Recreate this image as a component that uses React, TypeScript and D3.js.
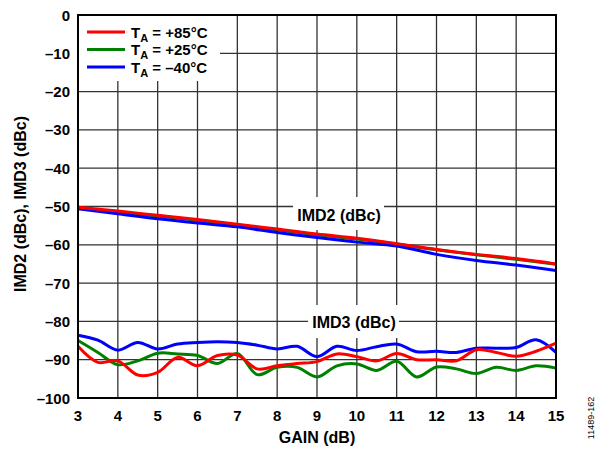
import React from "react";
import * as d3 from "d3";

const gainX = [3, 3.5, 4, 4.5, 5, 5.5, 6, 6.5, 7, 7.5, 8, 8.5, 9, 9.5, 10, 10.5, 11, 11.5, 12, 12.5, 13, 13.5, 14, 14.5, 15];
const imd2X = [3, 4, 5, 6, 7, 8, 9, 10, 11, 12, 13, 14, 15];

const imd2Red = [-50.2, -51.2, -52.3, -53.4, -54.6, -55.9, -57.2, -58.3, -59.7, -61.2, -62.5, -63.6, -65.0];
const imd2Green = [-50.4, -51.4, -52.5, -53.6, -54.8, -56.1, -57.4, -58.5, -59.8, -61.3, -62.6, -63.8, -65.1];
const imd2Blue = [-50.6, -51.9, -53.2, -54.3, -55.3, -56.8, -58.1, -59.3, -60.3, -62.5, -64.1, -65.3, -66.7];

const imd3Red = [-86.5, -90.7, -90.3, -94.0, -93.3, -89.4, -91.6, -88.9, -88.8, -92.4, -91.6, -91.0, -90.5, -88.5, -89.2, -90.3, -88.4, -90.0, -90.0, -90.3, -87.4, -88.1, -89.1, -87.8, -85.7];
const imd3Green = [-85.0, -88.1, -91.3, -90.3, -88.3, -88.5, -88.9, -91.0, -88.4, -93.9, -92.0, -92.0, -94.5, -91.6, -91.1, -92.8, -90.4, -94.5, -91.9, -92.4, -93.6, -92.0, -92.8, -91.6, -92.2];
const imd3Blue = [-83.6, -84.9, -87.5, -85.5, -87.2, -85.9, -85.5, -85.3, -85.5, -86.2, -87.2, -86.5, -89.2, -86.5, -87.6, -86.6, -85.9, -87.9, -87.8, -88.1, -87.0, -87.0, -86.8, -84.8, -88.1];

const xTicks = [3, 4, 5, 6, 7, 8, 9, 10, 11, 12, 13, 14, 15];
const yTicks = [0, -10, -20, -30, -40, -50, -60, -70, -80, -90, -100];

const legendItems = [
  { label: "+85°C", color: "#ff0000" },
  { label: "+25°C", color: "#008000" },
  { label: "–40°C", color: "#0000ff" },
];

const W = 603;
const H = 452;
const L = 78, R = 556, T = 15, B = 398;

export default function App() {
  const x = d3.scaleLinear().domain([3, 15]).range([L, R]);
  const y = d3.scaleLinear().domain([0, -100]).range([T, B]);
  const line = (xs: number[]) =>
    d3.line<number>().x((_, i) => x(xs[i])).y((d) => y(d)).curve(d3.curveCatmullRom.alpha(0.5));
  const l2 = line(imd2X);
  const l3 = line(gainX);
  const fontB = { fontFamily: "Arial, 'Liberation Sans', sans-serif", fontWeight: 700 } as const;
  const fmt = (v: number) => (v < 0 ? "–" + Math.abs(v) : String(v));

  return (
    <svg width={W} height={H} style={{ position: "absolute", left: 0, top: 0, background: "#fff" }}>
      <rect x={0} y={0} width={W} height={H} fill="#fff" />
      {xTicks.map((t) => (
        <line key={"gx" + t} x1={x(t)} x2={x(t)} y1={T} y2={B} stroke="#333" strokeWidth={1.3} />
      ))}
      {yTicks.map((t) => (
        <line key={"gy" + t} x1={L} x2={R} y1={y(t)} y2={y(t)} stroke="#333" strokeWidth={1.3} />
      ))}
      {/* label boxes */}
      <rect x={293} y={197} width={91} height={33} fill="#fff" />
      <rect x={308} y={305} width={91} height={33} fill="#fff" />
      <rect x={L + 1} y={T + 1} width={141} height={65} fill="#fff" />

      {[imd2Green, imd2Blue, imd2Red].map((d, i) => (
        <path key={"i2" + i} d={l2(d) || ""} fill="none" stroke={["#008000", "#0000ff", "#ff0000"][i]} strokeWidth={3} />
      ))}
      {[imd3Blue, imd3Green, imd3Red].map((d, i) => (
        <path key={"i3" + i} d={l3(d) || ""} fill="none" stroke={["#0000ff", "#008000", "#ff0000"][i]} strokeWidth={3} />
      ))}

      <rect x={L} y={T} width={R - L} height={B - T} fill="none" stroke="#000" strokeWidth={2} />

      <text x={339} y={220.5} textAnchor="middle" fontSize={16} style={fontB}>IMD2 (dBc)</text>
      <text x={354} y={327.5} textAnchor="middle" fontSize={16} style={fontB}>IMD3 (dBc)</text>

      {legendItems.map((it, i) => (
        <g key={"lg" + i}>
          <line x1={87} x2={125} y1={32 + i * 17.5} y2={32 + i * 17.5} stroke={it.color} strokeWidth={3} />
          <text x={131} y={37.5 + i * 17.5} fontSize={15} style={fontB}>
            T<tspan fontSize={11} dy={4}>A</tspan><tspan dy={-4}> = {it.label}</tspan>
          </text>
        </g>
      ))}

      {yTicks.map((t) => (
        <text key={"yl" + t} x={70} y={y(t) + 5.5} textAnchor="end" fontSize={15} style={fontB}>{fmt(t)}</text>
      ))}
      {xTicks.map((t) => (
        <text key={"xl" + t} x={x(t)} y={421} textAnchor="middle" fontSize={15} style={fontB}>{t}</text>
      ))}
      <text x={317} y={443} textAnchor="middle" fontSize={16} style={fontB}>GAIN (dB)</text>
      <text transform={`translate(26,204) rotate(-90)`} textAnchor="middle" fontSize={16} style={fontB}>
        IMD2 (dBc), IMD3 (dBc)
      </text>
      <text transform={`translate(594,418) rotate(-90)`} textAnchor="middle" fontSize={9}
        style={{ fontFamily: "Arial, 'Liberation Sans', sans-serif" }}>11489-162</text>
    </svg>
  );
}
